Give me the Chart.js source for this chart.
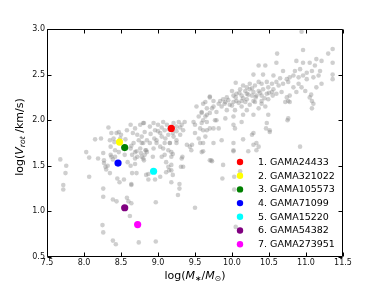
<!DOCTYPE html>
<html><head><meta charset="utf-8">
<script src="https://cdn.jsdelivr.net/npm/chart.js@4.4.0/dist/chart.umd.min.js"></script>
<style>html,body{margin:0;padding:0;background:#fff;}#wrap{width:382px;height:286px;position:relative;}</style>
</head><body><div id="wrap"><canvas id="c" width="382" height="286"></canvas></div>
<script>
const xTicks = [7.5, 8.0, 8.5, 9.0, 9.5, 10.0, 10.5, 11.0, 11.5];
const yTicks = [0.5, 1.0, 1.5, 2.0, 2.5, 3.0];

const sampleMass = [
7.68,7.76,7.75,7.72,7.72,8.03,8.07,8.07,8.15,8.23,8.26,8.19,8.27,8.37,8.30,8.35,8.36,8.39,8.45,8.54,
8.48,8.26,8.26,8.39,8.44,8.60,8.64,8.58,8.62,8.25,8.26,8.39,8.43,8.74,8.97,8.97,8.63,8.65,8.64,8.64,
8.71,8.84,8.87,8.87,8.96,9.03,9.11,9.18,9.20,9.29,9.27,9.50,9.31,9.45,9.33,9.05,9.11,9.14,9.15,9.18,
9.07,8.93,8.84,8.71,8.69,8.77,8.64,8.55,8.82,8.98,9.16,9.25,9.39,9.20,
8.27,8.29,8.33,8.37,8.40,8.44,8.47,8.50,8.49,8.58,8.56,8.63,8.66,8.69,8.72,8.76,8.81,8.74,8.78,8.67,
8.63,8.69,8.76,8.83,8.78,8.72,8.65,8.69,8.81,8.42,8.42,8.36,8.59,8.47,8.41,8.35,8.32,
8.80,8.82,8.78,8.85,8.80,8.89,8.94,8.96,9.00,9.03,9.05,8.98,9.07,9.12,9.09,9.14,9.21,9.25,9.28,9.32,
9.34,9.30,9.36,9.21,9.25,8.89,8.94,9.03,9.09,9.16,9.14,9.18,9.09,9.18,8.85,8.80,9.43,9.46,9.32,9.34,
9.48,9.50,9.52,9.55,9.59,9.61,9.66,9.70,9.73,9.57,9.66,9.64,9.75,9.55,9.59,9.70,9.50,9.57,9.75,9.79,
8.90,8.95,9.00,9.05,9.10,9.15,9.20,9.25,9.30,
9.18,9.29,9.87,10.03,10.03,10.05,10.11,
9.72,10.02,10.29,10.33,10.27,10.51,
10.94,10.61,10.96,10.36,10.45,10.60,10.29,10.42,10.56,10.69,10.87,10.96,11.05,11.14,11.21,11.30,11.36,11.36,11.36,11.36,
11.12,11.08,11.19,10.92,10.85,11.01,10.96,10.90,10.83,10.78,10.74,10.65,10.60,10.54,10.47,10.40,10.36,10.31,10.24,10.20,
10.15,10.05,10.11,10.18,10.24,10.29,10.36,10.42,10.49,10.56,10.63,10.69,10.76,10.83,10.90,10.94,11.01,11.10,11.17,11.21,
11.14,11.05,10.99,10.87,10.78,10.74,10.76,10.67,10.60,10.54,10.47,10.40,10.33,10.27,10.20,10.13,10.06,10.02,10.00,9.93,
9.88,9.84,9.75,9.70,9.64,10.06,10.13,10.20,10.29,10.40,10.49,
9.61,9.66,9.59,9.64,9.70,9.75,9.79,9.82,9.86,9.91,9.93,9.97,10.02,10.04,10.09,10.13,10.18,10.20,10.24,10.31,
10.36,10.40,10.45,10.49,10.29,10.15,10.02,9.91,9.77,9.66,9.59,9.61,9.70,9.82,10.02,10.04,10.13,10.47,10.51,10.29,
10.02,9.61,9.86,10.15,10.33,10.36,10.22,10.02,9.61,9.73,9.88,10.76,10.92,11.10,10.72,10.78,
10.46,10.75,11.07,11.08,11.08,
10.05,10.10,10.15,10.22,10.27,10.32,10.38,10.44,10.50,10.55,9.90,9.95,10.00
];
const sampleVrot = [
1.57,1.50,1.42,1.29,1.24,1.65,1.59,1.38,1.79,1.80,1.64,1.58,1.53,1.60,1.46,1.42,1.71,1.57,1.36,1.35,
1.32,1.25,1.16,1.13,1.11,1.11,1.09,1.15,0.95,0.85,0.77,0.68,0.64,0.66,0.67,1.10,1.50,1.42,1.30,1.29,
1.42,1.40,1.41,1.35,1.35,1.38,1.43,1.32,1.40,1.25,1.18,1.04,1.49,1.67,1.60,1.60,1.54,1.49,1.45,1.51,
1.69,1.60,1.67,1.66,1.58,1.64,1.72,1.62,1.62,1.75,1.75,1.75,1.73,1.63,
1.56,1.49,1.92,1.86,1.80,1.86,1.87,1.84,1.80,1.89,1.79,1.95,1.86,1.91,1.84,1.95,1.97,1.78,1.75,1.75,
1.69,1.65,1.69,1.67,1.60,1.60,1.62,1.52,1.56,1.67,1.60,1.62,1.54,1.65,1.76,1.78,1.50,
1.97,1.87,1.82,1.78,1.75,1.93,1.97,1.89,1.95,1.86,1.82,1.78,1.98,1.95,1.89,1.84,1.97,1.93,1.98,1.95,
1.89,1.84,1.98,1.82,1.78,1.75,1.69,1.71,1.75,1.75,1.67,1.65,1.62,1.60,1.65,1.58,1.71,1.73,1.58,1.49,
1.98,1.95,2.15,2.04,2.09,2.00,2.06,2.26,2.13,1.91,1.89,1.82,1.91,1.80,1.65,1.56,1.86,1.75,1.75,2.00,
1.85,1.80,1.88,1.92,1.80,1.90,1.86,1.88,1.92,
1.45,1.30,1.36,1.38,1.24,0.83,1.44,
1.56,1.67,1.73,1.67,1.84,1.87,
2.97,2.73,2.77,2.60,2.60,2.63,2.50,2.50,2.49,2.54,2.65,2.63,2.63,2.67,2.65,2.73,2.78,2.63,2.50,2.45,
2.60,2.54,2.54,2.56,2.54,2.52,2.49,2.47,2.49,2.47,2.45,2.46,2.42,2.40,2.42,2.40,2.42,2.38,2.40,2.36,
2.38,2.41,2.34,2.32,2.34,2.31,2.32,2.34,2.36,2.34,2.38,2.40,2.42,2.36,2.40,2.36,2.45,2.47,2.49,2.40,
2.36,2.25,2.32,2.31,2.27,2.25,2.21,2.31,2.29,2.31,2.29,2.27,2.27,2.27,2.29,2.27,2.29,2.27,2.32,2.25,
2.23,2.21,2.21,2.25,2.20,2.21,2.21,2.23,2.21,2.21,2.23,
2.18,2.13,2.08,2.04,2.08,2.15,2.09,2.18,2.15,2.20,2.11,2.17,2.20,2.11,2.19,2.15,2.20,2.11,2.17,2.20,
2.13,2.18,2.15,2.06,2.06,2.06,2.04,2.02,2.00,1.98,1.97,1.89,1.91,1.91,1.95,1.91,1.98,1.97,1.89,1.86,
1.75,1.75,1.78,1.79,1.75,1.71,1.66,1.66,1.66,1.55,1.51,2.02,1.71,2.18,2.20,2.20,
1.91,2.00,2.28,2.21,2.13,
2.25,2.30,2.24,2.28,2.35,2.25,2.30,2.24,2.30,2.27,2.18,2.22,2.16
];

const galaxyNames = ['1. GAMA24433','2. GAMA321022','3. GAMA105573','4. GAMA71099','5. GAMA15220','6. GAMA54382','7. GAMA273951'];
const galaxyMass = [9.18, 8.48, 8.55, 8.46, 8.94, 8.55, 8.725];
const galaxyVrot = [1.91, 1.76, 1.70, 1.53, 1.44, 1.04, 0.855];
const galaxyColors = ['#ff0000','#ffff00','#008000','#0000ff','#00ffff','#800080','#ff00ff'];

const FONT = "'DejaVu Sans', sans-serif";

const datasets = [];
galaxyNames.forEach((n, i) => {
  datasets.push({
    label: n,
    data: [{x: galaxyMass[i], y: galaxyVrot[i]}],
    backgroundColor: galaxyColors[i],
    borderWidth: 0,
    pointRadius: 3.6,
    order: i,
    isGalaxy: true
  });
});
datasets.push({
  label: 'sample',
  data: sampleMass.map((m, i) => ({x: m, y: sampleVrot[i]})),
  backgroundColor: 'rgba(128,128,128,0.38)',
  borderWidth: 0,
  pointRadius: 2.3,
  order: 100
});

function drawRich(ctx, segs, size, cx, cy) {
  const sub = size * 0.7;
  let w = 0;
  const items = segs.map(s => {
    const fs = s.sub ? sub : size;
    ctx.font = (s.it ? 'italic ' : '') + fs + 'px ' + FONT;
    const mw = ctx.measureText(s.t).width;
    const it = {s, fs, w: mw};
    w += mw;
    return it;
  });
  let x = cx - w / 2;
  items.forEach(it => {
    ctx.font = (it.s.it ? 'italic ' : '') + it.fs + 'px ' + FONT;
    ctx.fillText(it.s.t, x, cy + (it.s.sub ? size * 0.28 : 0));
    x += it.w;
  });
}

const decorPlugin = {
  id: 'decor',
  beforeDraw(chart) {
    const ctx = chart.ctx;
    ctx.save();
    ctx.fillStyle = '#fff';
    ctx.fillRect(0, 0, chart.width, chart.height);
    ctx.restore();
  },
  afterDraw(chart) {
    const {ctx, chartArea: a, scales: {x, y}} = chart;
    ctx.save();
    ctx.strokeStyle = '#000';
    ctx.lineWidth = 1;
    const L = Math.round(a.left) + 0.5, R = Math.round(a.right) - 0.5;
    const T = Math.round(a.top) + 0.5, B = Math.round(a.bottom) - 0.5;
    ctx.beginPath();
    ctx.rect(L, T, R - L, B - T);
    ctx.stroke();
    const tl = 4;
    ctx.beginPath();
    xTicks.forEach(v => {
      const px = Math.round(x.getPixelForValue(v)) + 0.5;
      ctx.moveTo(px, B); ctx.lineTo(px, B - tl);
      ctx.moveTo(px, T); ctx.lineTo(px, T + tl);
    });
    yTicks.forEach(v => {
      const py = Math.round(y.getPixelForValue(v)) + 0.5;
      ctx.moveTo(L, py); ctx.lineTo(L + tl, py);
      ctx.moveTo(R, py); ctx.lineTo(R - tl, py);
    });
    ctx.stroke();

    // legend
    const lx = x.getPixelForValue(7.5) + 193;
    let ly = 162;
    ctx.textBaseline = 'middle';
    ctx.textAlign = 'left';
    chart.data.datasets.filter(d => d.isGalaxy).forEach(d => {
      ctx.fillStyle = d.backgroundColor;
      ctx.beginPath();
      ctx.arc(lx, ly, 3.2, 0, Math.PI * 2);
      ctx.fill();
      ctx.fillStyle = '#000';
      ctx.font = '9.5px ' + FONT;
      ctx.fillText(d.label, lx + 18, ly + 0.5);
      ly += 13.7;
    });

    // axis titles
    ctx.fillStyle = '#000';
    ctx.textBaseline = 'middle';
    ctx.textAlign = 'left';
    drawRich(ctx, [{t:'log('},{t:'M',it:1},{t:'∗',sub:1},{t:'/'},{t:'M',it:1},{t:'⊙',sub:1},{t:')'}], 11, (a.left + a.right) / 2, 276);
    ctx.save();
    ctx.translate(20, 137);
    ctx.rotate(-Math.PI / 2);
    drawRich(ctx, [{t:'log('},{t:'V',it:1},{t:'rot',sub:1,it:1},{t:' /km/s)'}], 11, 0, 0);
    ctx.restore();
    ctx.restore();
  }
};

new Chart(document.getElementById('c'), {
  type: 'scatter',
  data: {datasets},
  options: {
    responsive: false,
    animation: false,
    devicePixelRatio: 1,
    layout: {padding: {top: 29, right: 39, left: 0, bottom: 0}},
    plugins: {legend: {display: false}, tooltip: {enabled: false}, title: {display: false}},
    scales: {
      x: {
        type: 'linear', min: 7.5, max: 11.5,
        afterBuildTicks: s => { s.ticks = xTicks.map(v => ({value: v})); },
        afterFit: s => { s.height = 29; },
        grid: {display: false, drawTicks: false},
        border: {display: false},
        ticks: {callback: v => Number(v).toFixed(1), font: {family: FONT, size: 8}, color: '#111', padding: 1, maxRotation: 0, autoSkip: false}
      },
      y: {
        type: 'linear', min: 0.5, max: 3.0,
        afterBuildTicks: s => { s.ticks = yTicks.map(v => ({value: v})); },
        afterFit: s => { s.width = 47; },
        grid: {display: false, drawTicks: false},
        border: {display: false},
        ticks: {callback: v => Number(v).toFixed(1), font: {family: FONT, size: 8}, color: '#111', padding: 2, autoSkip: false}
      }
    }
  },
  plugins: [decorPlugin]
});
</script>
</body></html>
